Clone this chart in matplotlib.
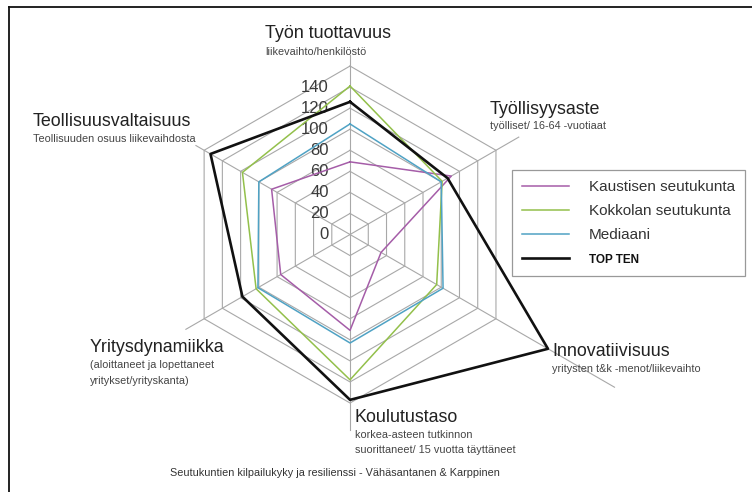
import numpy as np
import matplotlib
matplotlib.use("Agg")
import matplotlib.pyplot as plt
from matplotlib.lines import Line2D

plt.rcParams["font.family"] = ["Liberation Sans", "DejaVu Sans"]

# Data, clockwise from the top
categories = ["Työn tuottavuus", "Työllisyysaste", "Innovatiivisuus",
              "Koulutustaso", "Yritysdynamiikka", "Teollisuusvaltaisuus"]
kaustinen = [69, 111, 34, 91, 76, 86]
kokkola = [141, 101, 95, 138, 103, 118]
mediaani = [105, 100, 102, 103, 101, 100]
top_ten = [126, 107, 217, 157, 118, 153]
ticks = [0, 20, 40, 60, 80, 100, 120, 140, 160]
spoke_len = [170, 185, 290, 186, 180, 169]

W, H = 752, 492
fig = plt.figure(figsize=(W / 100, H / 100), dpi=100)
ax = fig.add_axes([0, 0, 1, 1])
ax.set_xlim(-332.4, 381.7)
ax.set_ylim(-244.5, 222.7)
ax.axis("off")

theta = np.arange(len(categories)) * 2 * np.pi / len(categories)


def to_xy(vals):
    vals = np.asarray(vals, dtype=float)
    x = vals * np.sin(theta)
    y = vals * np.cos(theta)
    return np.append(x, x[0]), np.append(y, y[0])


# hexagon grid
grid_col = "#a8a8a8"
for t in ticks[1:]:
    gx, gy = to_xy([t] * len(categories))
    ax.plot(gx, gy, color=grid_col, lw=0.8, zorder=1)
for th, L in zip(theta, spoke_len):
    ax.plot([0, L * np.sin(th)], [0, L * np.cos(th)], color=grid_col, lw=0.8, zorder=1)

# radial tick labels
for t in ticks[:-1]:
    ax.text(-20, t, str(t), ha="right", va="center", fontsize=12, color="#3a3a3a", zorder=2)

# series
series = [
    ("Kaustisen seutukunta", kaustinen, "#a55da8", 1.1),
    ("Kokkolan seutukunta", kokkola, "#93c04b", 1.1),
    ("Mediaani", mediaani, "#4fa2c4", 1.1),
    ("TOP TEN", top_ten, "#111111", 1.9),
]
handles = []
for name, vals, col, lw in series:
    sx, sy = to_xy(vals)
    ln, = ax.plot(sx, sy, color=col, lw=lw, label=name, zorder=3)
    handles.append(ln)

leg = ax.legend(handles=handles, loc="upper left",
                bbox_to_anchor=(512 / W, 1 - 170 / H), bbox_transform=fig.transFigure,
                borderaxespad=0, borderpad=0.65, handlelength=3.1, handletextpad=1.3,
                labelspacing=0.66, fontsize=11, fancybox=False, framealpha=1,
                edgecolor="#999999")
leg.get_frame().set_linewidth(0.9)
for txt in leg.get_texts():
    txt.set_color("#333333")
leg.get_texts()[-1].set_fontweight("bold")
leg.get_texts()[-1].set_fontsize(8.5)
leg.get_texts()[-1].set_color("#111111")


def ftext(px, py, s, size, **kw):
    fig.text(px / W, 1 - py / H, s, fontsize=size, va="center", **kw)


big = 12.9
small = 7.8
sub_col = "#444444"
ftext(265, 34, "Työn tuottavuus", big, color="#222222")
ftext(265, 52, "liikevaihto/henkilöstö", small, color=sub_col)
ftext(490, 109, "Työllisyysaste", big, color="#222222")
ftext(490, 126, "työlliset/ 16-64 -vuotiaat", small, color=sub_col)
ftext(33, 121, "Teollisuusvaltaisuus", big, color="#222222")
ftext(33, 139, "Teollisuuden osuus liikevaihdosta", small, color=sub_col)
ftext(90, 347, "Yritysdynamiikka", big, color="#222222")
ftext(90, 365, "(aloittaneet ja lopettaneet", small, color=sub_col)
ftext(90, 381, "yritykset/yrityskanta)", small, color=sub_col)
ftext(552, 351, "Innovatiivisuus", big, color="#222222")
ftext(552, 369, "yritysten t&k -menot/liikevaihto", small, color=sub_col)
ftext(355, 417, "Koulutustaso", big, color="#222222")
ftext(355, 435, "korkea-asteen tutkinnon", small, color=sub_col)
ftext(355, 450, "suorittaneet/ 15 vuotta täyttäneet", small, color=sub_col)
ftext(335, 473, "Seutukuntien kilpailukyky ja resilienssi - Vähäsantanen & Karppinen",
      small, color="#333333", ha="center")

# outer frame (cut at right and bottom like the reference)
fig.add_artist(Line2D([8.5 / W, 8.5 / W], [0, 1 - 7 / H], transform=fig.transFigure,
                      color="#111111", lw=1.3))
fig.add_artist(Line2D([8.5 / W, 1], [1 - 7 / H, 1 - 7 / H], transform=fig.transFigure,
                      color="#111111", lw=1.3))

fig.savefig("out.png", dpi=100)
